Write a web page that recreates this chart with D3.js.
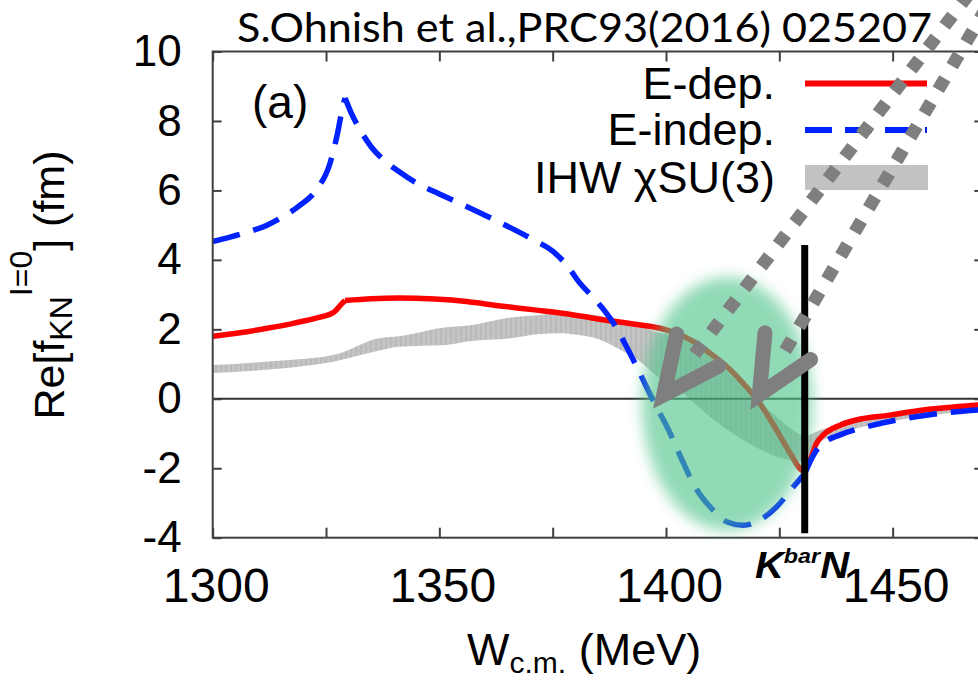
<!DOCTYPE html>
<html>
<head>
<meta charset="utf-8">
<script src="https://cdn.jsdelivr.net/npm/d3@7"></script>
<style>
  html, body { margin: 0; padding: 0; background: #fff; }
  svg { display: block; font-family: "Liberation Sans", Arial, sans-serif; }
</style>
</head>
<body>
<svg id="chart" width="978" height="680"></svg>
<script>
// ---- data -------------------------------------------------------------
// Energy-dependent amplitude (E-dep.)
const wRed = [1300, 1306, 1312, 1318, 1323, 1326.6, 1328.5, 1329.2, 1335, 1341, 1349, 1356, 1363, 1371, 1378, 1385, 1392, 1398.7, 1403, 1406, 1409.7, 1413.4, 1417, 1420.7, 1424.4, 1427.4, 1429.6, 1430.6,
              1431.8, 1433.2, 1434.7, 1438.4, 1442, 1449.4, 1456.8, 1464, 1470];
const fRed = [1.80, 1.90, 2.03, 2.18, 2.33, 2.48, 2.74, 2.83, 2.88, 2.90, 2.87, 2.80, 2.68, 2.56, 2.45, 2.30, 2.17, 2.03, 1.85, 1.65, 1.31, 0.93, 0.45, -0.13, -0.90, -1.57, -2.02, -2.12,
              -1.76, -1.28, -1.04, -0.76, -0.61, -0.47, -0.32, -0.23, -0.17];

// Energy-independent amplitude (E-indep.)
const wBlue = [1300, 1304, 1308.2, 1312, 1315.6, 1319, 1322.9, 1325.9, 1327.4, 1328.8, 1329.2, 1330.5, 1332.5, 1335, 1337.6, 1341, 1345, 1350, 1356, 1363, 1370.7, 1375, 1378.1, 1381, 1384.3, 1388.4, 1391.3, 1394, 1396.8, 1400.9, 1403.5, 1406, 1409.7, 1413.4, 1417, 1420.7, 1424.4, 1428.1, 1430.6,
               1433.2, 1435, 1438.4, 1445.7, 1453.1, 1460.4, 1470];
const fBlue = [4.53, 4.66, 4.82, 5.00, 5.25, 5.55, 6.02, 6.79, 7.56, 8.47, 8.66, 8.25, 7.75, 7.25, 6.89, 6.55, 6.21, 5.90, 5.54, 5.10, 4.58, 4.25, 3.85, 3.33, 2.87, 2.18, 1.50, 0.80, 0.05, -0.99, -1.75, -2.44, -3.11, -3.54, -3.64, -3.49, -3.11, -2.53, -2.15,
               -1.48, -1.25, -1.04, -0.76, -0.56, -0.42, -0.31];

// IHW chiral SU(3) band (lower / upper edge)
const wBand  = [1300, 1313, 1326.6, 1337, 1341, 1351.6, 1356, 1366.3, 1371, 1377.3, 1380, 1385, 1389.9, 1395, 1398, 1402.4, 1406, 1409.7, 1413.4, 1417, 1420.7, 1424.4, 1427.4, 1430.6,
                1431.5, 1433.2, 1436, 1440, 1445, 1450, 1456, 1462, 1470];
const bandLo = [0.74, 0.85, 1.07, 1.40, 1.50, 1.55, 1.65, 1.75, 1.85, 1.89, 1.85, 1.72, 1.41, 1.00, 0.65, 0.35, -0.10, -0.52, -0.88, -1.19, -1.45, -1.67, -1.76, -1.82,
                -1.60, -1.33, -1.10, -0.92, -0.76, -0.64, -0.52, -0.42, -0.33];
const bandHi = [0.97, 1.08, 1.26, 1.75, 1.80, 2.06, 2.10, 2.35, 2.40, 2.46, 2.45, 2.40, 2.15, 2.05, 1.92, 1.79, 1.55, 1.21, 0.80, 0.35, -0.10, -0.52, -0.85, -1.10,
                -1.05, -0.95, -0.82, -0.70, -0.58, -0.48, -0.38, -0.30, -0.22];

// cusps where the curves have a kink (pi-Sigma and K-bar N thresholds)
const cuspW = [1329.2, 1430.6];
const thresholdW = 1430.6;

const xTicks = [1300, 1325, 1350, 1375, 1400, 1425, 1450];
const xTickLabels = ["1300", "", "1350", "", "1400", "", "1450"];
const yTicks = [-4, -2, 0, 2, 4, 6, 8, 10];
const yTickLabels = ["-4", "-2", "0", "2", "4", "6", "8", "10"];

const legendLabels = ["E-dep.", "E-indep.", "IHW \u03C7SU(3)"];
const titleText = "S.Ohnish et al.,PRC93(2016) 025207";

// highlight region and arrows (data units)
const highlight = {w: 1413.5, f: -0.15, rw: 18.8, rf: 3.65};
const arrowTips = [{w: 1399.5, f: 0.12, ang: -52.7}, {w: 1420.6, f: 0.12, ang: -59.6}];

// ---- layout -----------------------------------------------------------
const svg = d3.select("#chart");
const x = d3.scaleLinear().domain([1300, 1470]).range([212.7, 983.3]);
const y = d3.scaleLinear().domain([-4, 10]).range([537.7, 51.5]);
const X0 = x.range()[0], X1 = x.range()[1], Y0 = y.range()[0], Y1 = y.range()[1];

const defs = svg.append("defs");
defs.append("clipPath").attr("id", "plotClip")
  .append("rect").attr("x", X0).attr("y", Y1).attr("width", X1 - X0).attr("height", Y0 - Y1);
defs.append("filter").attr("id", "soft").attr("x", "-50%").attr("y", "-50%").attr("width", "200%").attr("height", "200%")
  .append("feGaussianBlur").attr("stdDeviation", 7);
defs.append("filter").attr("id", "glow").attr("x", "-200%").attr("y", "-10%").attr("width", "500%").attr("height", "120%")
  .append("feGaussianBlur").attr("stdDeviation", 2.5);
// band texture: fine vertical strokes
const stripes = defs.append("pattern").attr("id", "bandFill").attr("patternUnits", "userSpaceOnUse")
  .attr("width", 5).attr("height", 10);
stripes.append("rect").attr("width", 5).attr("height", 10).attr("fill", "#c4c4c4");
stripes.append("rect").attr("width", 2).attr("height", 10).attr("fill", "#bababa");

const plot = svg.append("g").attr("clip-path", "url(#plotClip)");

// split a series into segments at cusp energies so each kink stays sharp
function segments(ws, fs) {
  const pts = ws.map((w, i) => [w, fs[i]]);
  const segs = [];
  let cur = [];
  pts.forEach(p => {
    cur.push(p);
    if (cuspW.includes(p[0])) { segs.push(cur); cur = [p]; }
  });
  if (cur.length > 1) segs.push(cur);
  return segs;
}
const line = d3.line().x(d => x(d[0])).y(d => y(d[1])).curve(d3.curveMonotoneX);

// band
const bandPts = wBand.map((w, i) => ({w, lo: bandLo[i], hi: bandHi[i]}));
const bandBefore = bandPts.filter(d => d.w <= thresholdW);
const bandAfter = bandPts.filter(d => d.w >= thresholdW);
const area = d3.area().x(d => x(d.w)).y0(d => y(d.lo)).y1(d => y(d.hi)).curve(d3.curveMonotoneX);
[bandBefore, bandAfter].forEach(seg => {
  plot.append("path").attr("d", area(seg)).attr("fill", "url(#bandFill)");
});

// zero line
plot.append("line").attr("x1", X0).attr("x2", X1).attr("y1", y(0)).attr("y2", y(0))
  .attr("stroke", "#333").attr("stroke-width", 2);

// curves
segments(wRed, fRed).forEach(s => {
  plot.append("path").attr("d", line(s)).attr("fill", "none")
    .attr("stroke", "#ff0000").attr("stroke-width", 5.5).attr("stroke-linejoin", "round");
});
plot.append("path").attr("fill", "none")
  .attr("d", segments(wBlue, fBlue).map(s => line(s)).join(""))
  .attr("stroke", "#0022ff").attr("stroke-width", 5.5).attr("stroke-dasharray", "28,14");

// ---- frame & axes -----------------------------------------------------
const axisColor = "#404040";
const gx = svg.append("g").attr("transform", `translate(0,${Y0})`)
  .call(d3.axisBottom(x).tickValues(xTicks).tickSize(-10).tickPadding(30)
    .tickFormat((d, i) => xTickLabels[i]));
gx.selectAll("text").attr("font-size", 48).attr("dx", 3).attr("fill", "#000");
const gxt = svg.append("g").attr("transform", `translate(0,${Y1})`)
  .call(d3.axisTop(x).tickValues(xTicks).tickSize(-10).tickFormat(""));
const gy = svg.append("g").attr("transform", `translate(${X0},0)`)
  .call(d3.axisLeft(y).tickValues(yTicks).tickSize(-9).tickPadding(31)
    .tickFormat((d, i) => yTickLabels[i]));
gy.selectAll("text").attr("font-size", 44).attr("fill", "#000");
const gyr = svg.append("g").attr("transform", `translate(${X1},0)`)
  .call(d3.axisRight(y).tickValues(yTicks).tickSize(-9).tickFormat(""));
[gx, gxt, gy, gyr].forEach(g => {
  g.select(".domain").remove();
  g.selectAll(".tick line").attr("stroke", axisColor).attr("stroke-width", 2);
  g.attr("font-family", null);
});
svg.append("rect").attr("x", X0).attr("y", Y1).attr("width", X1 - X0).attr("height", Y0 - Y1)
  .attr("fill", "none").attr("stroke", axisColor).attr("stroke-width", 2);

// panel tag
svg.append("text").attr("x", 252).attr("y", 118).attr("font-size", 46).text("(a)");

// legend
const legY = [83.5, 130, 177.5];
svg.selectAll(".leg-text").data(legendLabels).join("text")
  .attr("x", 775).attr("y", (d, i) => legY[i] + 15).attr("text-anchor", "end")
  .attr("font-size", 45).text(d => d);
svg.append("line").attr("x1", 805).attr("x2", 927).attr("y1", legY[0]).attr("y2", legY[0])
  .attr("stroke", "#ff0000").attr("stroke-width", 6);
svg.append("line").attr("x1", 805).attr("x2", 927).attr("y1", legY[1]).attr("y2", legY[1])
  .attr("stroke", "#0022ff").attr("stroke-width", 6).attr("stroke-dasharray", "27,13");
svg.append("rect").attr("x", 805).attr("y", legY[2] - 12.5).attr("width", 123).attr("height", 25)
  .attr("fill", "#c2c2c2");

// ---- annotations ------------------------------------------------------
// highlighted region around the resonance
svg.append("ellipse")
  .attr("cx", x(highlight.w)).attr("cy", y(highlight.f))
  .attr("rx", x(highlight.w + highlight.rw) - x(highlight.w))
  .attr("ry", y(highlight.f) - y(highlight.f + highlight.rf))
  .attr("fill", "#4fc48a").attr("opacity", 0.62).attr("filter", "url(#soft)");

// K-bar N threshold marker
const tx = x(thresholdW);
svg.append("line").attr("x1", tx).attr("x2", tx).attr("y1", y(4.43)).attr("y2", y(-3.87))
  .attr("stroke", "#000").attr("stroke-width", 10).attr("opacity", 0.45).attr("filter", "url(#glow)");
svg.append("line").attr("x1", tx).attr("x2", tx).attr("y1", y(4.43)).attr("y2", y(-3.87))
  .attr("stroke", "#000").attr("stroke-width", 7);

// dotted arrows pointing into the highlighted region
arrowTips.forEach(a => {
  const px = x(a.w), py = y(a.f);
  const g = svg.append("g").attr("transform", `translate(${px},${py}) rotate(${a.ang})`);
  g.append("line").attr("x1", 51).attr("x2", 520).attr("y1", 0).attr("y2", 0)
    .attr("stroke", "#7f7f7f").attr("stroke-width", 13).attr("stroke-dasharray", "13,14.5");
  g.append("path").attr("d", `M${62 * Math.cos(0.44)},${-62 * Math.sin(0.44)} L0,0 L${62 * Math.cos(0.44)},${62 * Math.sin(0.44)}`)
    .attr("fill", "none").attr("stroke", "#7f7f7f").attr("stroke-width", 15)
    .attr("stroke-linecap", "round").attr("stroke-linejoin", "miter");
});

// K-bar N label
const kn = svg.append("text").attr("x", 755).attr("y", 578)
  .attr("font-size", 36).attr("font-weight", "bold").attr("font-style", "italic")
  .attr("textLength", 94).attr("lengthAdjust", "spacingAndGlyphs");
kn.append("tspan").text("K");
kn.append("tspan").attr("font-size", 21).attr("dy", -15).text("bar");
kn.append("tspan").attr("dy", 15).text("N");

// axis titles
const xl = svg.append("text").attr("x", 467).attr("y", 665).attr("font-size", 45);
xl.append("tspan").text("W");
xl.append("tspan").attr("font-size", 30).attr("dy", 8).text("c.m.");
xl.append("tspan").attr("dy", -8).text(" (MeV)");

const yl = svg.append("text").attr("transform", "translate(64,285) rotate(-90)")
  .attr("text-anchor", "middle").attr("font-size", 43);
yl.append("tspan").text("Re[f");
yl.append("tspan").attr("font-size", 32).attr("dy", 8).text("KN");
yl.append("tspan").attr("font-size", 32).attr("dy", -40).text("I=0");
yl.append("tspan").attr("dy", 32).text("] (fm)");

// citation
svg.append("text").attr("x", 237).attr("y", 42).attr("font-family", "Lato, 'Open Sans', sans-serif")
  .attr("font-size", 41).attr("textLength", 695).attr("lengthAdjust", "spacingAndGlyphs")
  .text(titleText);
</script>
</body>
</html>
